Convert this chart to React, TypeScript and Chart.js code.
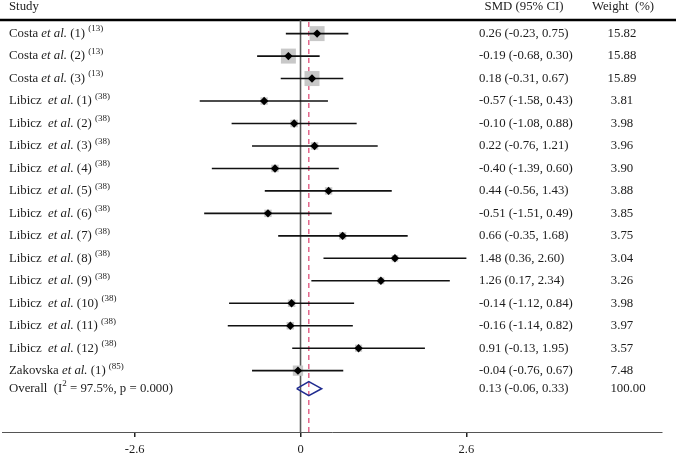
import React, { useEffect, useRef } from "react";
import { Chart, registerables } from "chart.js";

Chart.register(...registerables);

// ---------- data ----------
const AUTHORS = [
  "Costa", "Costa", "Costa",
  "Libicz", "Libicz", "Libicz", "Libicz", "Libicz", "Libicz",
  "Libicz", "Libicz", "Libicz", "Libicz", "Libicz", "Libicz",
  "Zakovska",
];
const STUDY_NO = [1, 2, 3, 1, 2, 3, 4, 5, 6, 7, 8, 9, 10, 11, 12, 1];
const REFS = [13, 13, 13, 38, 38, 38, 38, 38, 38, 38, 38, 38, 38, 38, 38, 85];
const SMD = [0.26, -0.19, 0.18, -0.57, -0.10, 0.22, -0.40, 0.44, -0.51, 0.66, 1.48, 1.26, -0.14, -0.16, 0.91, -0.04];
const CI_LOW = [-0.23, -0.68, -0.31, -1.58, -1.08, -0.76, -1.39, -0.56, -1.51, -0.35, 0.36, 0.17, -1.12, -1.14, -0.13, -0.76];
const CI_HIGH = [0.75, 0.30, 0.67, 0.43, 0.88, 1.21, 0.60, 1.43, 0.49, 1.68, 2.60, 2.34, 0.84, 0.82, 1.95, 0.67];
const WEIGHTS = [15.82, 15.88, 15.89, 3.81, 3.98, 3.96, 3.90, 3.88, 3.85, 3.75, 3.04, 3.26, 3.98, 3.97, 3.57, 7.48];

const OVERALL_SMD = 0.13;
const OVERALL_LOW = -0.06;
const OVERALL_HIGH = 0.33;
const OVERALL_WEIGHT = 100.0;
const OVERALL_I2 = "97.5%";
const OVERALL_P = "0.000";

const X_TICKS = [-2.6, 0, 2.6];
const X_TICK_LABELS = ["-2.6", "0", "2.6"];

// ---------- layout constants ----------
const W = 676;
const H = 462;
const OVERALL_ROW = 15.8;
const DIAMOND_HALF = 0.31;
const X_MIN = -4.679;
const X_MAX = 5.666;
const Y_MIN = -1.496;
const Y_MAX = 17.73;
const HEADER_LINE_Y = 20;
const FONT = '"Liberation Serif", "Times New Roman", serif';
const TEXT_COLOR = "#1c1c1c";
const FS = 12.8;

type Seg = { t: string; s?: "n" | "i" | "sup" };

function drawRich(ctx: CanvasRenderingContext2D, x: number, y: number, segs: Seg[]) {
  let cx = x;
  for (const seg of segs) {
    let dy = 0;
    if (seg.s === "i") ctx.font = `italic ${FS}px ${FONT}`;
    else if (seg.s === "sup") {
      ctx.font = `9px ${FONT}`;
      dy = -4.5;
    } else ctx.font = `${FS}px ${FONT}`;
    ctx.fillText(seg.t, cx, y + dy);
    cx += ctx.measureText(seg.t).width;
  }
}

const f2 = (v: number) => v.toFixed(2);

const forestPlugin = {
  id: "forestDecor",
  beforeDatasetsDraw(chart: any) {
    const { ctx, scales, chartArea } = chart;
    const xs = scales.x;
    ctx.save();
    // header rule
    ctx.strokeStyle = "#000";
    ctx.lineWidth = 2.5;
    ctx.beginPath();
    ctx.moveTo(0, HEADER_LINE_Y);
    ctx.lineTo(W, HEADER_LINE_Y);
    ctx.stroke();
    // zero line
    const x0 = xs.getPixelForValue(0);
    ctx.strokeStyle = "#5a5a5a";
    ctx.lineWidth = 1.6;
    ctx.beginPath();
    ctx.moveTo(x0, HEADER_LINE_Y);
    ctx.lineTo(x0, chartArea.bottom);
    ctx.stroke();
    // overall estimate dashed line
    const xo = xs.getPixelForValue(OVERALL_SMD);
    ctx.strokeStyle = "#e0507a";
    ctx.lineWidth = 1.3;
    ctx.setLineDash([5, 4]);
    ctx.beginPath();
    ctx.moveTo(xo, HEADER_LINE_Y + 2);
    ctx.lineTo(xo, chartArea.bottom);
    ctx.stroke();
    ctx.restore();
  },
  afterDatasetsDraw(chart: any) {
    const { ctx, scales } = chart;
    const ys = scales.y;
    ctx.save();
    ctx.fillStyle = TEXT_COLOR;
    ctx.textBaseline = "middle";
    ctx.textAlign = "left";
    // headers
    drawRich(ctx, 9, 7, [{ t: "Study" }]);
    ctx.textAlign = "center";
    ctx.font = `${FS}px ${FONT}`;
    ctx.fillText("SMD (95% CI)", 524, 7);
    ctx.fillText("Weight  (%)", 623, 7);

    for (let i = 0; i < AUTHORS.length; i++) {
      const y = ys.getPixelForValue(i);
      const gap = AUTHORS[i] === "Libicz" ? "  " : " ";
      ctx.textAlign = "left";
      drawRich(ctx, 9, y, [
        { t: AUTHORS[i] + gap },
        { t: "et al.", s: "i" },
        { t: ` (${STUDY_NO[i]}) ` },
        { t: `(${REFS[i]})`, s: "sup" },
      ]);
      ctx.font = `${FS}px ${FONT}`;
      ctx.fillText(`${f2(SMD[i])} (${f2(CI_LOW[i])}, ${f2(CI_HIGH[i])})`, 479, y);
      ctx.textAlign = "center";
      ctx.fillText(f2(WEIGHTS[i]), 622, y);
    }
    const yo = ys.getPixelForValue(OVERALL_ROW);
    ctx.textAlign = "left";
    drawRich(ctx, 9, yo, [
      { t: "Overall  (I" },
      { t: "2", s: "sup" },
      { t: ` = ${OVERALL_I2}, p = ${OVERALL_P})` },
    ]);
    ctx.font = `${FS}px ${FONT}`;
    ctx.fillText(`${f2(OVERALL_SMD)} (${f2(OVERALL_LOW)}, ${f2(OVERALL_HIGH)})`, 479, yo);
    ctx.textAlign = "center";
    ctx.fillText(f2(OVERALL_WEIGHT), 628, yo);
    ctx.restore();
  },
};

export default function App() {
  const canvasRef = useRef<HTMLCanvasElement | null>(null);

  useEffect(() => {
    if (!canvasRef.current) return;

    const ciDatasets = SMD.map((_, i) => ({
      type: "scatter" as const,
      data: [
        { x: CI_LOW[i], y: i },
        { x: CI_HIGH[i], y: i },
      ],
      showLine: true,
      borderColor: "#111",
      borderWidth: 1.6,
      pointRadius: 0,
      order: 1,
    }));

    const chart = new Chart(canvasRef.current, {
      type: "scatter",
      data: {
        datasets: [
          {
            data: SMD.map((v, i) => ({ x: v, y: i })),
            pointStyle: "rectRot",
            pointRadius: 4.2,
            backgroundColor: "#000",
            borderColor: "#000",
            borderWidth: 0,
            order: 0,
          },
          ...ciDatasets,
          {
            data: SMD.map((v, i) => ({ x: v, y: i })),
            pointStyle: "rect",
            pointRadius: WEIGHTS.map((w) => 2.66 * Math.sqrt(w)),
            backgroundColor: "#c8c8c8",
            borderWidth: 0,
            order: 2,
          },
          {
            data: [
              { x: OVERALL_LOW, y: OVERALL_ROW },
              { x: OVERALL_SMD, y: OVERALL_ROW - DIAMOND_HALF },
              { x: OVERALL_HIGH, y: OVERALL_ROW },
              { x: OVERALL_SMD, y: OVERALL_ROW + DIAMOND_HALF },
              { x: OVERALL_LOW, y: OVERALL_ROW },
            ],
            showLine: true,
            borderColor: "#1f2b8f",
            borderWidth: 1.6,
            pointRadius: 0,
            fill: false,
            tension: 0,
            order: 0,
          },
        ] as any,
      },
      options: {
        animation: false,
        responsive: false,
        events: [],
        layout: { autoPadding: false, padding: { left: 2, right: 14, top: 0, bottom: 0 } },
        plugins: {
          legend: { display: false },
          tooltip: { enabled: false },
        },
        scales: {
          x: {
            type: "linear",
            position: "bottom",
            min: X_MIN,
            max: X_MAX,
            afterBuildTicks: (s: any) => {
              s.ticks = X_TICKS.map((v) => ({ value: v }));
            },
            ticks: {
              autoSkip: false,
              maxRotation: 0,
              padding: 5,
              color: TEXT_COLOR,
              font: { family: FONT, size: 12.5 },
              callback: (_v: any, idx: number) => X_TICK_LABELS[idx],
            },
            grid: {
              drawOnChartArea: false,
              drawTicks: true,
              tickLength: 5,
              color: "#222",
              lineWidth: 1.5,
            },
            border: { display: true, color: "#555", width: 1 },
          },
          y: {
            type: "linear",
            display: false,
            reverse: true,
            min: Y_MIN,
            max: Y_MAX,
          },
        },
      },
      plugins: [forestPlugin],
    } as any);

    return () => chart.destroy();
  }, []);

  return (
    <div style={{ position: "absolute", left: 0, top: 0, width: W, height: H, background: "#fff" }}>
      <canvas ref={canvasRef} width={W} height={H} style={{ display: "block" }} />
    </div>
  );
}
